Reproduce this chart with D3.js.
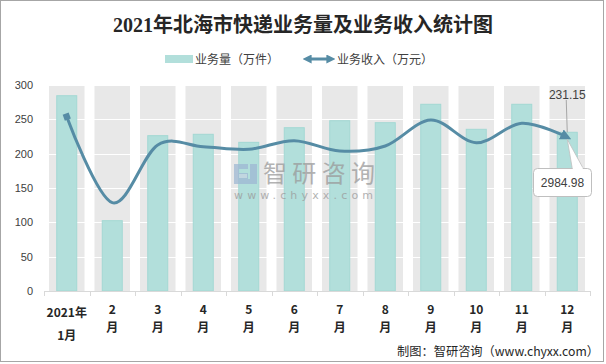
<!DOCTYPE html>
<html><head><meta charset="utf-8">
<script src="https://cdn.jsdelivr.net/npm/d3@7"></script>
<style>
html,body{margin:0;padding:0;background:#fff;}
svg{display:block;}
</style></head>
<body>
<script>
// ---- data ----
const categories = ["2021年1月","2月","3月","4月","5月","6月","7月","8月","9月","10月","11月","12月"];
const tickLines = [["2021年","1月"],["2","月"],["3","月"],["4","月"],["5","月"],["6","月"],["7","月"],["8","月"],["9","月"],["10","月"],["11","月"],["12","月"]];
const volume = [284.4, 102.4, 226.2, 228.2, 216.5, 237.8, 248.0, 245.1, 271.9, 235.5, 271.9, 231.15];   // 万件
const revenue = [3384, 1715, 2835, 2802, 2751, 2918, 2718, 2816, 3320, 2880, 3256, 2984.98];             // 万元
const yTicks = [0, 50, 100, 150, 200, 250, 300];
const title = "2021年北海市快递业务量及业务收入统计图";
const legendNames = ["业务量（万件）", "业务收入（万元）"];
const source = "制图：智研咨询（www.chyxx.com）";

const W = 606, H = 364;
const svg = d3.select("body").append("svg").attr("width", W).attr("height", H);

const x = d3.scaleBand().domain(categories).range([44, 590]);
const y = d3.scaleLinear().domain([0, 300]).range([291, 85]);
const y2 = d3.scaleLinear().domain([0, 4000]).range([291, 85]);

const fontCJK = "'Noto Sans CJK SC','Noto Sans',sans-serif";

// border
svg.append("rect").attr("x", 0.5).attr("y", 0.5).attr("width", 603).attr("height", 361)
  .attr("fill", "#fff").attr("stroke", "#a6a6a6");

// title
svg.append("text").attr("x", 303).attr("y", 32).attr("text-anchor", "middle")
  .attr("font-family", "'Liberation Serif','Noto Sans CJK SC',serif").attr("font-weight", "bold")
  .attr("font-size", 20).attr("fill", "#262626").text(title);

// legend
const lg = svg.append("g");
lg.append("rect").attr("x", 165).attr("y", 55).attr("width", 28).attr("height", 8)
  .attr("fill", "#b2dfdb");
lg.append("text").attr("x", 195).attr("y", 63.5).attr("font-family", fontCJK).attr("font-size", 12)
  .attr("fill", "#404040").text(legendNames[0]);

const defs = svg.append("defs");
defs.append("marker").attr("id", "arrowEnd").attr("viewBox", "0 0 10 10").attr("refX", 6).attr("refY", 5)
  .attr("markerUnits", "userSpaceOnUse").attr("markerWidth", 11).attr("markerHeight", 11).attr("orient", "auto")
  .append("path").attr("d", "M0,0 L10,5 L0,10 Z").attr("fill", "#568ca5");
defs.append("marker").attr("id", "diamondStart").attr("viewBox", "0 0 10 10").attr("refX", 5).attr("refY", 5)
  .attr("markerUnits", "userSpaceOnUse").attr("markerWidth", 8).attr("markerHeight", 8).attr("orient", "auto")
  .append("path").attr("d", "M1,1 L9,1 L9,9 L1,9 Z").attr("fill", "#568ca5");
defs.append("marker").attr("id", "arrowStartLeg").attr("viewBox", "0 0 10 10").attr("refX", 4).attr("refY", 5)
  .attr("markerUnits", "userSpaceOnUse").attr("markerWidth", 9).attr("markerHeight", 9).attr("orient", "auto-start-reverse")
  .append("path").attr("d", "M0,0 L10,5 L0,10 Z").attr("fill", "#568ca5");

lg.append("line").attr("x1", 308).attr("x2", 330).attr("y1", 59).attr("y2", 59)
  .attr("stroke", "#568ca5").attr("stroke-width", 3)
  .attr("marker-start", "url(#arrowStartLeg)").attr("marker-end", "url(#arrowStartLeg)");
lg.append("text").attr("x", 337).attr("y", 63.5).attr("font-family", fontCJK).attr("font-size", 12)
  .attr("fill", "#404040").text(legendNames[1]);

// gray background columns
const colPad = 5;
svg.append("g").selectAll("rect").data(categories).join("rect")
  .attr("x", d => x(d) + colPad).attr("width", x.bandwidth() - 2 * colPad)
  .attr("y", y(300)).attr("height", y(0) - y(300)).attr("fill", "#e8e8e8");

// gridlines
svg.append("g").selectAll("line").data(yTicks.filter(t => t > 0)).join("line")
  .attr("x1", 44).attr("x2", 590).attr("y1", d => Math.round(y(d)) + 0.5).attr("y2", d => Math.round(y(d)) + 0.5)
  .attr("stroke", "#ffffff").attr("stroke-width", 1.2);

// y labels
svg.append("g").selectAll("text").data(yTicks).join("text")
  .attr("x", 33).attr("y", d => y(d) + 4).attr("text-anchor", "end")
  .attr("font-family", "'Liberation Sans','Noto Sans',sans-serif").attr("font-size", 11)
  .attr("fill", "#404040").text(d => d);

// bars
const barW = 20;
svg.append("g").selectAll("rect").data(volume).join("rect")
  .attr("x", (d, i) => x(categories[i]) + x.bandwidth() / 2 - barW / 2)
  .attr("width", barW)
  .attr("y", d => y(d)).attr("height", d => y(0) - y(d))
  .attr("fill", "#b2dfdb").attr("stroke", "#a3d8d3").attr("stroke-width", 1);

// watermark
const wm = svg.append("g").attr("opacity", 0.75);
wm.append("path").attr("d", "M234,164 h14 v5 h-9 v4 h9 v11 h-14 z").attr("fill", "#9fb8d3");
wm.append("path").attr("d", "M250,164 h7 v20 h-12 v-5 h5 z").attr("fill", "#9fb8d3");
wm.append("rect").attr("x", 239).attr("y", 174).attr("width", 8).attr("height", 4).attr("fill", "#c7d4e2");
wm.append("text").attr("x", 263).attr("y", 182).attr("font-family", fontCJK).attr("font-size", 24)
  .attr("fill", "#9a9a9a").attr("textLength", 112).attr("lengthAdjust", "spacing").text("智研咨询");
wm.append("text").attr("x", 234).attr("y", 199).attr("font-family", "'DejaVu Sans',sans-serif").attr("font-size", 11)
  .attr("fill", "#9a9a9a").attr("textLength", 139).attr("lengthAdjust", "spacing").text("www.chyxx.com");

// line
const pts = revenue.map((v, i) => [x(categories[i]) + x.bandwidth() / 2, y2(v)]);
const lineGen = d3.line().curve(d3.curveCardinal.tension(0));
svg.append("path").attr("d", lineGen(pts)).attr("fill", "none")
  .attr("stroke", "#568ca5").attr("stroke-width", 3)
  .attr("marker-start", "url(#diamondStart)").attr("marker-end", "url(#arrowEnd)");

// x axis
const xa = svg.append("g");
xa.append("line").attr("x1", 44).attr("x2", 590).attr("y1", 291.5).attr("y2", 291.5).attr("stroke", "#d9d9d9");
const bounds = categories.map(c => x(c)).concat([590]);
xa.selectAll("line.tk").data(bounds).join("line").attr("class", "tk")
  .attr("x1", d => Math.round(d) + 0.5).attr("x2", d => Math.round(d) + 0.5)
  .attr("y1", 291).attr("y2", 296).attr("stroke", "#d9d9d9");
const lab = xa.append("g").selectAll("g").data(tickLines).join("g");
lab.each(function (lines, i) {
  const cx = x(categories[i]) + x.bandwidth() / 2;
  const g = d3.select(this);
  const ys = i === 0 ? [316.5, 339.5] : [313.5, 331.5];
  lines.forEach((t, j) => {
    g.append("text").attr("x", cx).attr("y", ys[j]).attr("text-anchor", "middle")
      .attr("font-family", fontCJK).attr("font-weight", "bold").attr("font-size", 12)
      .attr("fill", "#262626").text(t);
  });
});

// annotation: last bar value
const lastX = x(categories[11]) + x.bandwidth() / 2;
svg.append("line").attr("x1", lastX - 1).attr("y1", 100).attr("x2", lastX).attr("y2", y(volume[11]))
  .attr("stroke", "#a6a6a6").attr("stroke-width", 1);
svg.append("text").attr("x", lastX).attr("y", 99).attr("text-anchor", "middle")
  .attr("font-family", "'Liberation Sans','Noto Sans',sans-serif").attr("font-size", 12)
  .attr("fill", "#404040").text(volume[11]);

// annotation: last line value callout
const ly = y2(revenue[11]);
const cg = svg.append("g");
cg.append("path").attr("d", `M${lastX},${ly + 2} L${lastX + 16},168.5 L${lastX + 5},168.5 Z`)
  .attr("fill", "#fff").attr("stroke", "#bfbfbf").attr("stroke-width", 0.8);
cg.append("rect").attr("x", 533.5).attr("y", 168.5).attr("width", 58).attr("height", 28).attr("rx", 4)
  .attr("fill", "#fff").attr("stroke", "#bfbfbf");
cg.append("rect").attr("x", lastX + 5.5).attr("y", 167.5).attr("width", 10).attr("height", 2).attr("fill", "#fff");
cg.append("text").attr("x", 562.5).attr("y", 186.5).attr("text-anchor", "middle")
  .attr("font-family", "'Liberation Sans','Noto Sans',sans-serif").attr("font-size", 12)
  .attr("fill", "#404040").text(revenue[11].toFixed(2));

// source
svg.append("text").attr("x", 397).attr("y", 356).attr("font-family", fontCJK).attr("font-size", 12.5)
  .attr("fill", "#262626").attr("textLength", 202).attr("lengthAdjust", "spacingAndGlyphs").text(source);
</script>
</body></html>
